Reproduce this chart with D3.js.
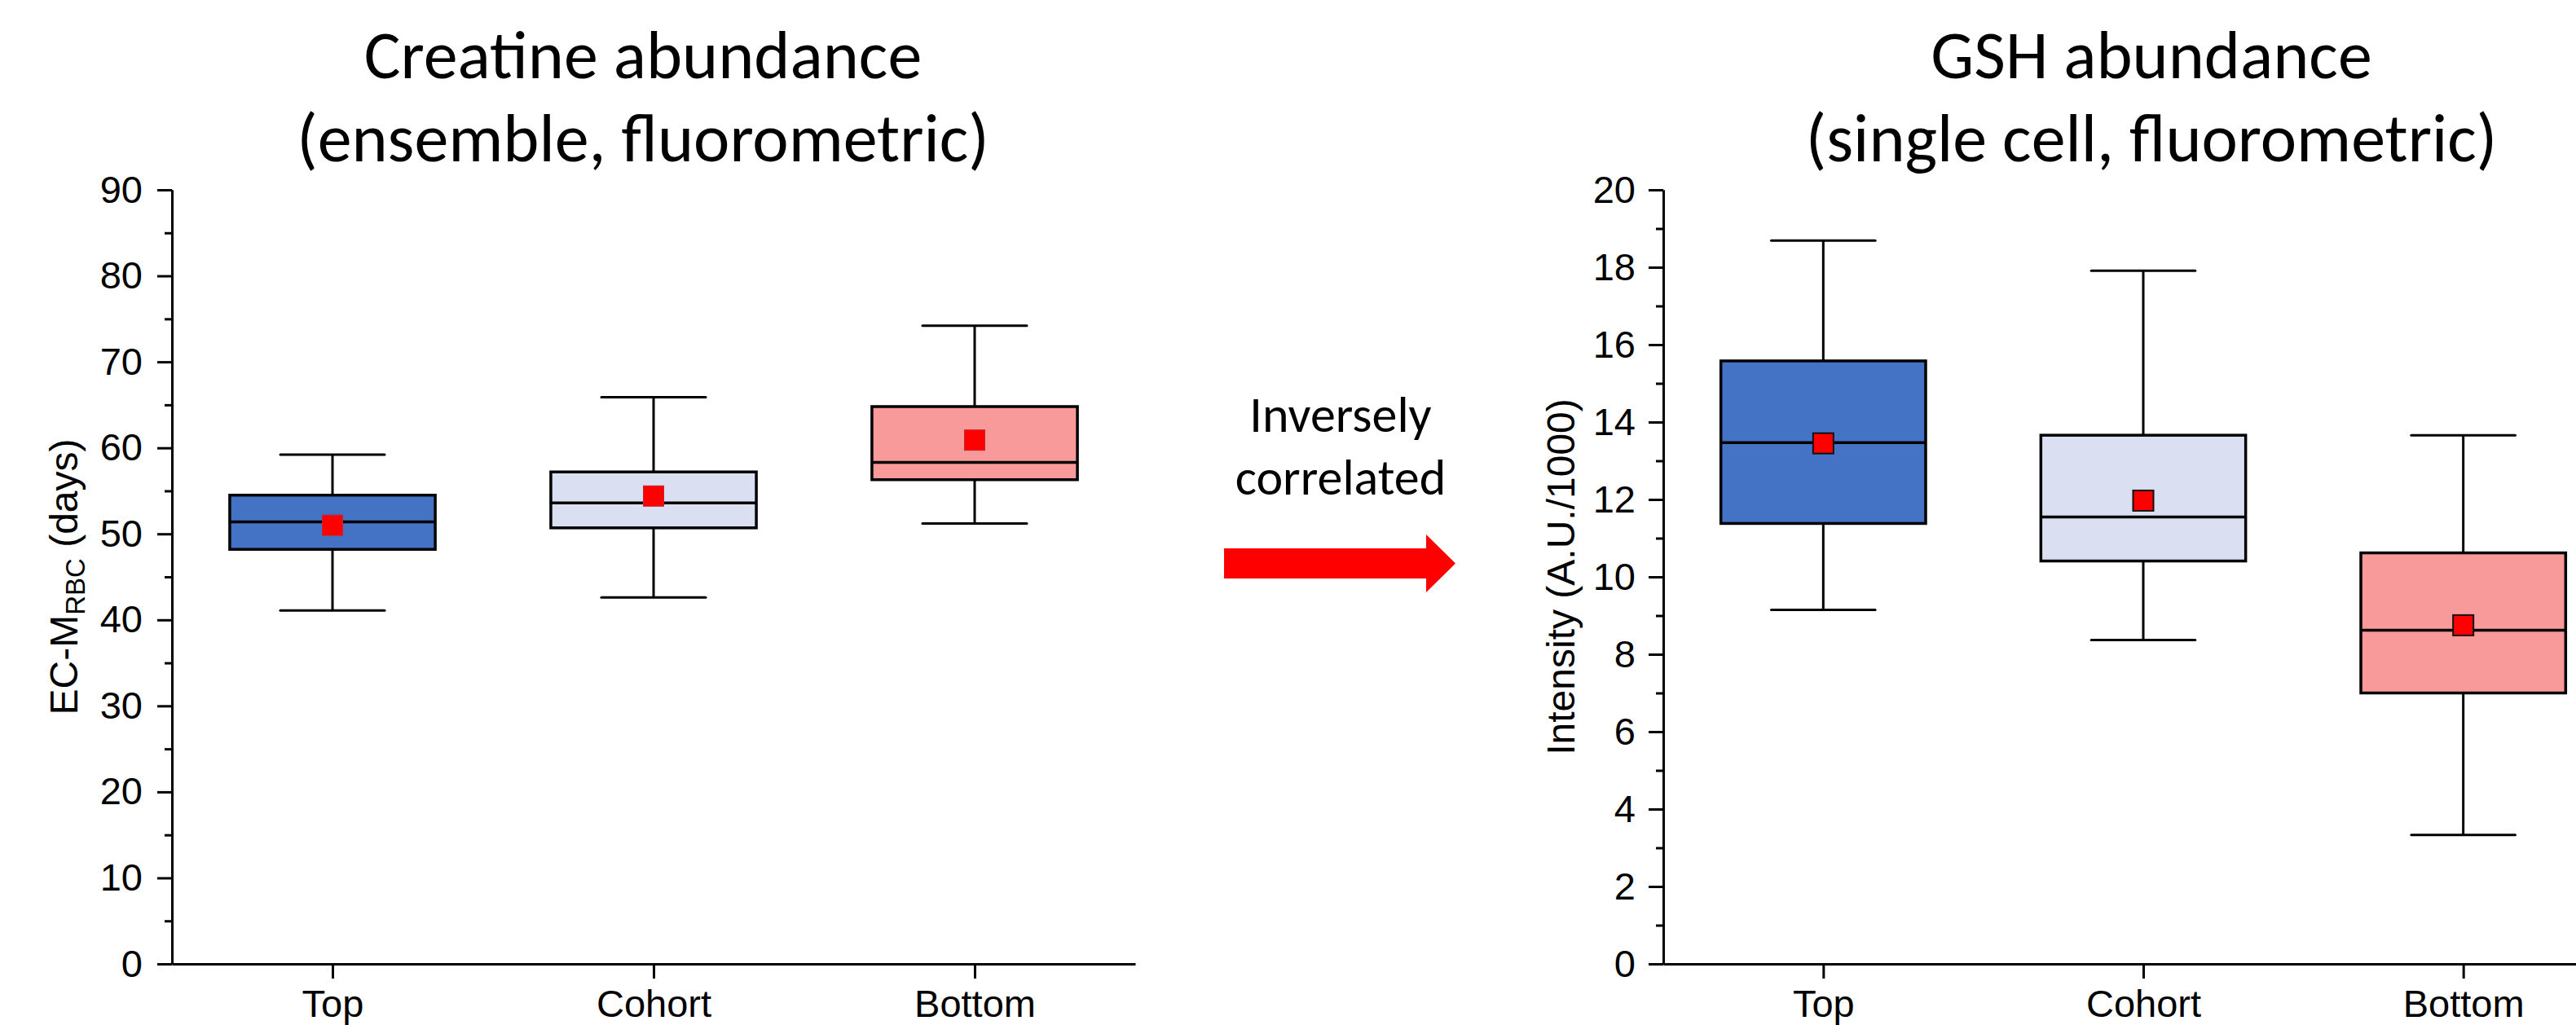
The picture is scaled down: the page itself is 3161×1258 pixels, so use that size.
<!DOCTYPE html>
<html>
<head>
<meta charset="utf-8">
<script src="https://cdn.jsdelivr.net/npm/d3@7"></script>
<style>
  body { margin: 0; background: #fff; }
  svg { display: block; }
</style>
</head>
<body>
<script>
'use strict';

// groups on the x axis (same for both panels)
const categories = ["Top", "Cohort", "Bottom"];
const boxColors = ["#4472C4", "#DAE0F2", "#F99A9A"];

// Creatine abundance (EC-M RBC, days)
const creatineLow    = [41.1, 42.6, 51.2];
const creatineQ1     = [48.2, 50.7, 56.3];
const creatineMedian = [51.4, 53.6, 58.3];
const creatineQ3     = [54.5, 57.2, 64.8];
const creatineHigh   = [59.2, 65.9, 74.2];
const creatineMean   = [51.0, 54.4, 60.9];
const creatineTicks  = [0, 10, 20, 30, 40, 50, 60, 70, 80, 90];

// GSH abundance (Intensity, A.U./1000)
const gshLow    = [9.15, 8.37, 3.33];
const gshQ1     = [11.38, 10.41, 7.0];
const gshMedian = [13.47, 11.55, 8.62];
const gshQ3     = [15.58, 13.66, 10.62];
const gshHigh   = [18.69, 17.91, 13.66];
const gshMean   = [13.45, 11.97, 8.75];
const gshTicks  = [0, 2, 4, 6, 8, 10, 12, 14, 16, 18, 20];

document.addEventListener('DOMContentLoaded', () => {

  const W = 3161, H = 1258;
  const yBottom = 1183, yTop = 233;
  const titleFont = "Calibri, Carlito, Lato, sans-serif";
  const axisFont = "Arial, 'Liberation Sans', sans-serif";

  const svg = d3.select("body")
    .append("svg")
    .attr("width", W)
    .attr("height", H);

  function drawPanel(cfg) {
    const x = d3.scalePoint()
      .domain(categories)
      .range([cfg.x0, cfg.x1])
      .padding(0.5);
    const y = d3.scaleLinear()
      .domain([0, cfg.yMax])
      .range([yBottom, yTop]);

    const g = svg.append("g");

    // minor y ticks
    const minor = d3.range(cfg.minorStep, cfg.yMax, cfg.minorStep * 2);
    g.append("g")
      .attr("class", "axis")
      .attr("transform", `translate(${cfg.x0},0)`)
      .call(d3.axisLeft(y).tickValues(minor).tickSize(9).tickFormat("").tickSizeOuter(0));

    // major y ticks
    g.append("g")
      .attr("class", "axis")
      .attr("transform", `translate(${cfg.x0},0)`)
      .call(d3.axisLeft(y).tickValues(cfg.ticks).tickSize(18).tickPadding(cfg.pad).tickSizeOuter(0));

    // x axis
    g.append("g")
      .attr("class", "axis")
      .attr("transform", `translate(0,${yBottom})`)
      .call(d3.axisBottom(x).tickSize(18).tickPadding(14).tickSizeOuter(0));

    g.selectAll(".axis path, .axis line")
      .attr("stroke", "#000")
      .attr("stroke-width", 3);
    g.selectAll(".axis text")
      .attr("font-family", axisFont)
      .attr("font-size", 47)
      .attr("fill", "#000");

    const rows = categories.map((c, i) => ({
      cat: c, lo: cfg.lo[i], q1: cfg.q1[i], med: cfg.med[i],
      q3: cfg.q3[i], hi: cfg.hi[i], mean: cfg.mean[i], color: boxColors[i]
    }));
    const boxW = x.step() * 0.64;
    const capW = x.step() * 0.325;

    const box = g.selectAll(".box")
      .data(rows)
      .enter()
      .append("g")
      .attr("class", "box");

    // whisker stem
    box.append("line")
      .attr("x1", d => x(d.cat))
      .attr("x2", d => x(d.cat))
      .attr("y1", d => y(d.lo))
      .attr("y2", d => y(d.hi))
      .attr("stroke", "#000")
      .attr("stroke-width", 3);

    // caps
    ["lo", "hi"].forEach(k => {
      box.append("line")
        .attr("x1", d => x(d.cat) - capW / 2)
        .attr("x2", d => x(d.cat) + capW / 2)
        .attr("y1", d => y(d[k]))
        .attr("y2", d => y(d[k]))
        .attr("stroke", "#000")
        .attr("stroke-width", 3)
        .attr("stroke-linecap", "round");
    });

    box.append("rect")
      .attr("x", d => x(d.cat) - boxW / 2)
      .attr("y", d => y(d.q3))
      .attr("width", boxW)
      .attr("height", d => y(d.q1) - y(d.q3))
      .attr("fill", d => d.color)
      .attr("stroke", "#000")
      .attr("stroke-width", 3.5);

    box.append("line")
      .attr("x1", d => x(d.cat) - boxW / 2)
      .attr("x2", d => x(d.cat) + boxW / 2)
      .attr("y1", d => y(d.med))
      .attr("y2", d => y(d.med))
      .attr("stroke", "#000")
      .attr("stroke-width", 3.5);

    // mean marker
    const m = 25;
    box.append("rect")
      .attr("x", d => x(d.cat) - m / 2)
      .attr("y", d => y(d.mean) - m / 2)
      .attr("width", m)
      .attr("height", m)
      .attr("fill", "#FF0000")
      .attr("stroke", cfg.meanStroke)
      .attr("stroke-width", cfg.meanStrokeW);

    // titles
    cfg.title.forEach((t, i) => {
      svg.append("text")
        .attr("x", cfg.titleX)
        .attr("y", 96 + i * 102)
        .attr("text-anchor", "middle")
        .attr("font-family", titleFont)
        .attr("font-size", 84)
        .text(t);
    });
  }

  drawPanel({
    x0: 211, x1: 1393, yMax: 90, minorStep: 5, ticks: creatineTicks, pad: 18,
    lo: creatineLow, q1: creatineQ1, med: creatineMedian, q3: creatineQ3,
    hi: creatineHigh, mean: creatineMean,
    meanStroke: "#C0282D", meanStrokeW: 1,
    title: ["Creatine abundance", "(ensemble, fluorometric)"], titleX: 789
  });

  drawPanel({
    x0: 2041, x1: 3219, yMax: 20, minorStep: 1, ticks: gshTicks, pad: 16,
    lo: gshLow, q1: gshQ1, med: gshMedian, q3: gshQ3,
    hi: gshHigh, mean: gshMean,
    meanStroke: "#111", meanStrokeW: 2,
    title: ["GSH abundance", "(single cell, fluorometric)"], titleX: 2640
  });

  // y axis labels
  const yl = svg.append("text")
    .attr("transform", "translate(95,708) rotate(-90)")
    .attr("text-anchor", "middle")
    .attr("font-family", axisFont)
    .attr("font-size", 48);
  yl.append("tspan").text("EC-M");
  yl.append("tspan").attr("font-size", 33).attr("dy", 9).text("RBC");
  yl.append("tspan").attr("dy", -9).text(" (days)");

  svg.append("text")
    .attr("transform", "translate(1932,708) rotate(-90)")
    .attr("text-anchor", "middle")
    .attr("font-family", axisFont)
    .attr("font-size", 48)
    .text("Intensity (A.U./1000)");

  // middle annotation
  svg.append("text")
    .attr("x", 1645)
    .attr("y", 530)
    .attr("text-anchor", "middle")
    .attr("font-family", titleFont)
    .attr("font-size", 62)
    .text("Inversely");
  svg.append("text")
    .attr("x", 1645)
    .attr("y", 607)
    .attr("text-anchor", "middle")
    .attr("font-family", titleFont)
    .attr("font-size", 62)
    .text("correlated");

  const arrow = [[1502, 673], [1750, 673], [1750, 656], [1786, 691.5],
                 [1750, 727], [1750, 710], [1502, 710]];
  svg.append("polygon")
    .attr("points", arrow.map(p => p.join(",")).join(" "))
    .attr("fill", "#FF0000");
});
</script>
</body>
</html>
